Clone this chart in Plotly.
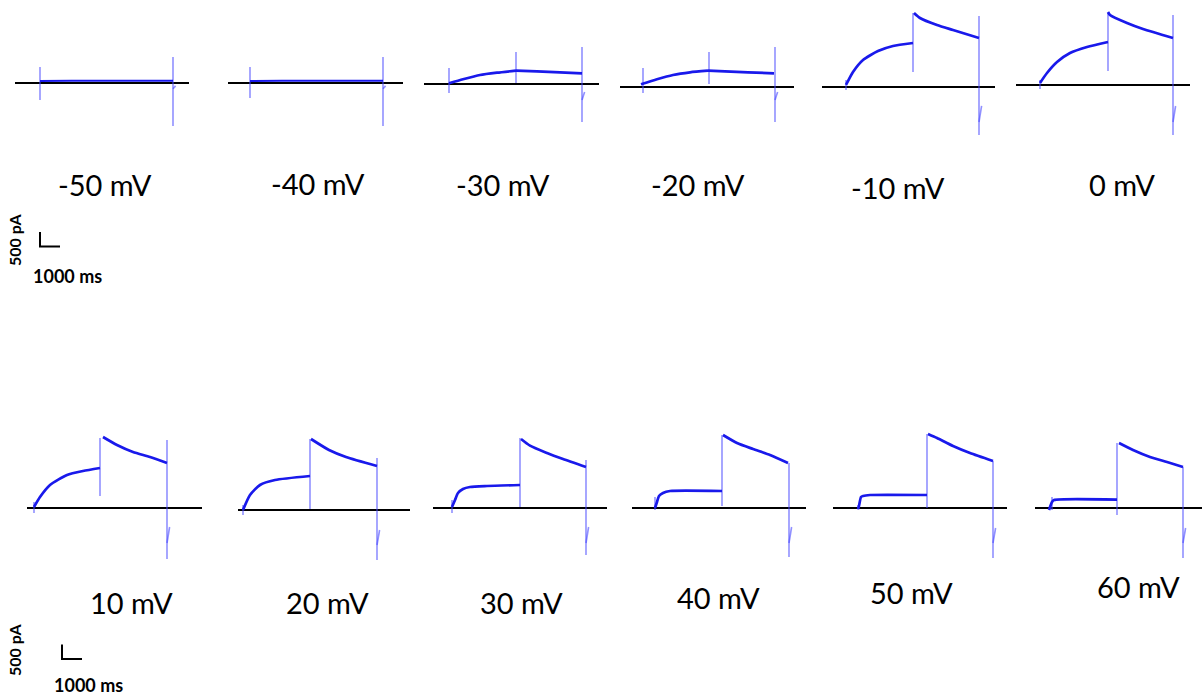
import plotly.graph_objects as go

# ---------------- data ----------------
voltages = ["-50 mV", "-40 mV", "-30 mV", "-20 mV", "-10 mV", "0 mV",
            "10 mV", "20 mV", "30 mV", "40 mV", "50 mV", "60 mV"]

# first pulse: time (ms) and current (pA)
step1_t = [
    [0, 1600, 3350],
    [0, 1600, 3350],
    [0, 700, 1550, 2400, 3350],
    [0, 800, 1600, 2450, 3350],
    [0, 350, 850, 1600, 2350, 3350],
    [0, 350, 850, 1500, 2350, 3400],
    [0, 300, 800, 1650, 2450, 3300],
    [0, 350, 850, 1600, 3350],
    [0, 150, 300, 550, 900, 1750, 3400],
    [0, 100, 200, 400, 750, 3350],
    [0, 50, 150, 250, 600, 3450],
    [0, 150, 250, 3400],
]
step1_i = [
    [70, 75, 75],
    [70, 75, 75],
    [24, 162, 310, 390, 459],
    [93, 266, 414, 507, 562],
    [70, 517, 931, 1241, 1414, 1517],
    [70, 414, 793, 1103, 1310, 1483],
    [35, 379, 793, 1138, 1276, 1379],
    [0, 517, 862, 1034, 1172],
    [35, 276, 517, 655, 724, 759, 793],
    [0, 207, 414, 517, 586, 586],
    [-35, 69, 379, 414, 448, 448],
    [-69, 207, 276, 290],
]
# second pulse
step2_t = [
    [3350, 5000, 6650],
    [3350, 5000, 6650],
    [3350, 4400, 5550, 6650],
    [3350, 4200, 5350, 6650],
    [3400, 3700, 4550, 5350, 6650],
    [3400, 3500, 4350, 5150, 6650],
    [3450, 4150, 4950, 5800, 6650],
    [3400, 4300, 5150, 6700],
    [3450, 3900, 4750, 5550, 6700],
    [3400, 4100, 4900, 5750, 6650],
    [3500, 3950, 4750, 5600, 6750],
    [3500, 4200, 5050, 5900, 6700],
]
step2_i = [
    [75, 78, 80],
    [75, 78, 80],
    [459, 438, 403, 369],
    [562, 541, 507, 472],
    [2552, 2379, 2138, 1966, 1690],
    [2517, 2414, 2138, 1931, 1621],
    [2448, 2172, 1931, 1759, 1552],
    [2448, 2069, 1828, 1517],
    [2379, 2150, 1897, 1690, 1414],
    [2517, 2241, 2034, 1828, 1552],
    [2552, 2414, 2138, 1897, 1621],
    [2241, 2000, 1759, 1586, 1414],
]
# capacitive artefacts: onset, step change, offset (time ms, high pA, low pA)
onset_t = [0, 0, 0, 100, 0, 0, 0, 0, 0, 0, 0, 150]
onset_hi = [550, 550, 550, 655, 240, 170, 207, 170, 276, 379, 100, 379]
onset_lo = [-590, -520, -310, -207, -100, -140, -172, -170, -172, -69, -60, -69]
mid_t = [None, None, 3350, 3400, 3350, 3400, 3300, 3350, 3400, 3350, 3450, 3400]
mid_hi = [None, None, 1100, 1207, 2552, 2483, 2414, 2448, 2414, 2517, 2552, 2241]
mid_lo = [None, None, 35, 103, 517, 483, 414, 35, 35, 69, 0, -241]
off_t = [6650, 6650, 6650, 6700, 6650, 6650, 6650, 6700, 6700, 6700, 6750, 6700]
off_hi = [900, 900, 1275, 1379, 2448, 2414, 2345, 1793, 1655, 1552, 1621, 1414]
off_lo = [-1480, -1480, -1310, -1207, -1655, -1724, -1759, -1724, -1621, -1690, -1724, -1724]
tail_lo = [-200, -200, -552, -448, -1207, -1276, -1207, -1207, -1207, -1207, -1207, -1207]
tail_hi = [-100, -100, -276, -172, -655, -724, -655, -690, -655, -655, -690, -690]
# zero-current reference line extent (ms)
base_t0 = [-1250, -1100, -1250, -1050, -1200, -1200, -350, -250, -950, -1150, -1250, -700]
base_t1 = [7450, 7650, 7500, 7650, 7450, 7500, 8400, 8350, 7750, 7550, 7450, 8050]

scale_ms = 1000
scale_pa = 500
scale_ms_label = "1000 ms"
scale_pa_label = "500 pA"

# ---------------- layout (pixels) ----------------
W, H = 1202, 696
PX_PER_MS = 0.02
PX_PER_PA = 0.029

origins = [(40, 83), (250, 83), (449, 84), (641, 87), (846, 87), (1040, 85),
           (34, 508), (243, 510), (452, 508), (655, 508), (858, 508), (1049, 508)]
label_pos = [(105, 185), (318, 183), (503, 185), (698, 185), (898, 187), (1122, 185),
             (131, 602), (327, 602), (521, 602), (718, 597), (911, 592), (1138, 586)]
scalebar_origins = [(40, 246.5), (62, 659)]
pa_label_pos = [(14, 240), (14, 650)]
ms_label_pos = [(67, 276), (88, 685)]

TRACE = "rgb(25,25,235)"
ARTEFACT = "rgba(70,70,255,0.6)"

fig = go.Figure()
layout_axes = {}
axis_count = [0]


def add_axes(ox, oy, box):
    axis_count[0] += 1
    n = axis_count[0]
    xl, xr = max(0, ox + box[0]), min(W, ox + box[1])
    yt, yb = max(0, oy + box[2]), min(H, oy + box[3])
    sfx = "" if n == 1 else str(n)
    layout_axes["xaxis" + sfx] = dict(
        domain=[xl / W, xr / W],
        range=[(xl - ox) / PX_PER_MS, (xr - ox) / PX_PER_MS],
        visible=False, fixedrange=True, anchor="y" + sfx)
    layout_axes["yaxis" + sfx] = dict(
        domain=[1 - yb / H, 1 - yt / H],
        range=[(oy - yb) / PX_PER_PA, (oy - yt) / PX_PER_PA],
        visible=False, fixedrange=True, anchor="x" + sfx)
    return "x" + sfx, "y" + sfx


for k, v in enumerate(voltages):
    ox, oy = origins[k]
    xa, ya = add_axes(ox, oy, (-45, 180, -90, 62))
    # zero line
    fig.add_trace(go.Scatter(x=[base_t0[k], base_t1[k]], y=[0, 0], mode="lines",
                             line=dict(color="black", width=2.2),
                             xaxis=xa, yaxis=ya, hoverinfo="skip", showlegend=False))
    # artefacts
    ax = [onset_t[k], onset_t[k], None]
    ay = [onset_hi[k], onset_lo[k], None]
    if mid_t[k] is not None:
        ax += [mid_t[k], mid_t[k], None]
        ay += [mid_hi[k], mid_lo[k], None]
    ax += [off_t[k], off_t[k], None, off_t[k], off_t[k] + 130]
    ay += [off_hi[k], off_lo[k], None, tail_lo[k], tail_hi[k]]
    fig.add_trace(go.Scatter(x=ax, y=ay, mode="lines",
                             line=dict(color=ARTEFACT, width=1.6),
                             xaxis=xa, yaxis=ya, hoverinfo="skip", showlegend=False))
    w = 2.0 if k < 2 else 2.7
    for tt, ii in ((step1_t[k], step1_i[k]), (step2_t[k], step2_i[k])):
        fig.add_trace(go.Scatter(x=tt, y=ii, mode="lines",
                                 line=dict(color=TRACE, width=w, shape="spline", smoothing=0.6),
                                 xaxis=xa, yaxis=ya, hoverinfo="skip", showlegend=False))

# scale bars
for (sx, sy) in scalebar_origins:
    xa, ya = add_axes(sx, sy, (-10, 40, -30, 10))
    fig.add_trace(go.Scatter(x=[0, 0, scale_ms], y=[scale_pa, 0, 0], mode="lines",
                             line=dict(color="black", width=2),
                             xaxis=xa, yaxis=ya, hoverinfo="skip", showlegend=False))

annotations = []
for k, v in enumerate(voltages):
    px, py = label_pos[k]
    annotations.append(dict(x=px / W, y=1 - py / H, xref="paper", yref="paper",
                            text=v, showarrow=False, xanchor="center", yanchor="middle",
                            font=dict(family="Lato", size=29, color="black")))
for (px, py) in pa_label_pos:
    annotations.append(dict(x=px / W, y=1 - py / H, xref="paper", yref="paper",
                            text="<b>" + scale_pa_label + "</b>", showarrow=False, textangle=-90,
                            xanchor="center", yanchor="middle",
                            font=dict(family="Lato", size=16, color="black")))
for (px, py) in ms_label_pos:
    annotations.append(dict(x=px / W, y=1 - py / H, xref="paper", yref="paper",
                            text="<b>" + scale_ms_label + "</b>", showarrow=False,
                            xanchor="center", yanchor="middle",
                            font=dict(family="Lato", size=18, color="black")))

fig.update_layout(width=W, height=H, margin=dict(l=0, r=0, t=0, b=0),
                  paper_bgcolor="white", plot_bgcolor="rgba(0,0,0,0)",
                  showlegend=False, annotations=annotations, **layout_axes)

fig.write_html("out.html", config={"displayModeBar": False})
